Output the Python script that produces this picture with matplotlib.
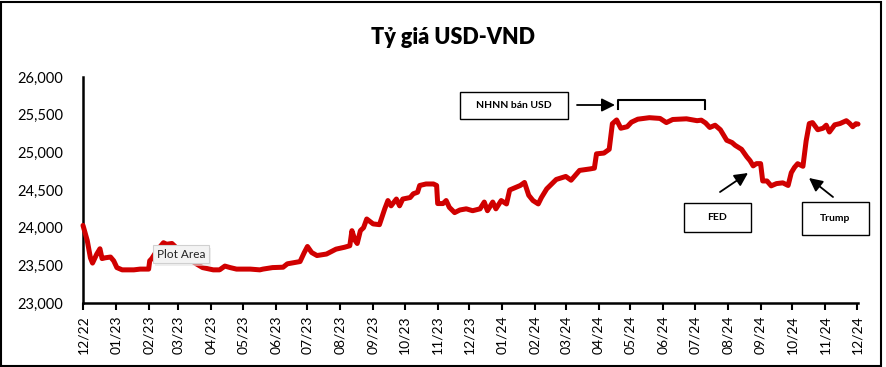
import numpy as np
import pandas as pd
import matplotlib
matplotlib.use('Agg')
import matplotlib.pyplot as plt
import matplotlib.dates as mdates
from matplotlib.patches import Rectangle
from matplotlib.ticker import FuncFormatter

dates = ['2022-12-01', '2022-12-05', '2022-12-08', '2022-12-10', '2022-12-14', '2022-12-17',
         '2022-12-19', '2022-12-22', '2022-12-27', '2022-12-30', '2023-01-02', '2023-01-07',
         '2023-01-18', '2023-01-24', '2023-02-01', '2023-02-02', '2023-02-04', '2023-02-09',
         '2023-02-15', '2023-02-18', '2023-02-23', '2023-02-26', '2023-03-07', '2023-03-18',
         '2023-03-24', '2023-04-03', '2023-04-09', '2023-04-14', '2023-04-19', '2023-04-25',
         '2023-05-08', '2023-05-17', '2023-05-20', '2023-05-29', '2023-06-08', '2023-06-12',
         '2023-06-24', '2023-06-28', '2023-07-01', '2023-07-05', '2023-07-10', '2023-07-19',
         '2023-07-28', '2023-08-05', '2023-08-10', '2023-08-12', '2023-08-15', '2023-08-17',
         '2023-08-20', '2023-08-23', '2023-08-26', '2023-09-01', '2023-09-07', '2023-09-12',
         '2023-09-15', '2023-09-18', '2023-09-23', '2023-09-26', '2023-09-29', '2023-10-06',
         '2023-10-09', '2023-10-13', '2023-10-15', '2023-10-21', '2023-10-28', '2023-10-31',
         '2023-11-01', '2023-11-06', '2023-11-09', '2023-11-12', '2023-11-17', '2023-11-22',
         '2023-11-28', '2023-12-04', '2023-12-11', '2023-12-15', '2023-12-18', '2023-12-23',
         '2023-12-26', '2023-12-31', '2024-01-05', '2024-01-08', '2024-01-18', '2024-01-22',
         '2024-01-26', '2024-01-30', '2024-02-04', '2024-02-07', '2024-02-12', '2024-02-21',
         '2024-03-01', '2024-03-06', '2024-03-14', '2024-03-24', '2024-03-28', '2024-03-30',
         '2024-04-06', '2024-04-11', '2024-04-14', '2024-04-18', '2024-04-22', '2024-04-28',
         '2024-05-02', '2024-05-08', '2024-05-19', '2024-05-29', '2024-06-04', '2024-06-10',
         '2024-06-23', '2024-07-03', '2024-07-07', '2024-07-11', '2024-07-15', '2024-07-20',
         '2024-07-25', '2024-07-31', '2024-08-05', '2024-08-08', '2024-08-14', '2024-08-19',
         '2024-08-22', '2024-08-25', '2024-08-28', '2024-09-01', '2024-09-03', '2024-09-07',
         '2024-09-11', '2024-09-16', '2024-09-22', '2024-09-27', '2024-09-30', '2024-10-03',
         '2024-10-06', '2024-10-11', '2024-10-14', '2024-10-17', '2024-10-20', '2024-10-25',
         '2024-10-30', '2024-11-02', '2024-11-05', '2024-11-10', '2024-11-15', '2024-11-21',
         '2024-11-24', '2024-11-27', '2024-11-30', '2024-12-02']
rates = [24030, 23830, 23600, 23530, 23650, 23720,
         23590, 23600, 23610, 23560, 23470, 23440,
         23440, 23450, 23450, 23560, 23590, 23700,
         23800, 23780, 23790, 23750, 23620, 23520,
         23470, 23440, 23440, 23490, 23470, 23450,
         23450, 23440, 23450, 23470, 23475, 23520,
         23550, 23670, 23750, 23670, 23630, 23650,
         23715, 23740, 23760, 23960, 23830, 23790,
         23960, 24000, 24115, 24050, 24040, 24250,
         24360, 24290, 24380, 24290, 24380, 24400,
         24450, 24470, 24560, 24580, 24580, 24560,
         24320, 24320, 24360, 24270, 24200, 24235,
         24250, 24225, 24250, 24340, 24225, 24340,
         24250, 24360, 24315, 24500, 24560, 24600,
         24430, 24360, 24315, 24400, 24515, 24640,
         24680, 24630, 24760, 24780, 24790, 24980,
         24990, 25040, 25380, 25430, 25320, 25340,
         25400, 25440, 25460, 25450, 25395, 25436,
         25445, 25420, 25427, 25390, 25330, 25360,
         25300, 25160, 25130, 25093, 25040, 24940,
         24890, 24820, 24850, 24850, 24620, 24620,
         24555, 24585, 24595, 24560, 24730, 24800,
         24849, 24815, 25150, 25382, 25395, 25300,
         25320, 25360, 25270, 25365, 25382, 25420,
         25385, 25340, 25380, 25375]

yticks = [23000, 23500, 24000, 24500, 25000, 25500, 26000]
tick_dates = pd.date_range('2022-12-01', '2024-12-01', freq='MS')

plt.rcParams['font.family'] = ['Lato', 'DejaVu Sans']

W, H = 887, 367
fig = plt.figure(figsize=(W / 100, H / 100), dpi=100)
ax = fig.add_axes([83 / W, 1 - 303 / H, 775 / W, 226 / H])

x = pd.to_datetime(dates)
ax.plot(x, rates, color='#D00000', lw=3.6, solid_joinstyle='round',
        solid_capstyle='round', clip_on=False, zorder=3)

ax.set_xlim(x[0], x[-1])
ax.set_ylim(23000, 26000)
ax.set_yticks(yticks)
ax.yaxis.set_major_formatter(FuncFormatter(lambda v, p: '{:,.0f}'.format(v)))
ax.set_xticks(tick_dates)
ax.xaxis.set_major_formatter(mdates.DateFormatter('%m/%y'))
ax.tick_params(axis='x', rotation=90, length=5, width=1.5, direction='out', labelsize=10, pad=4)
ax.tick_params(axis='y', length=0, labelsize=10.5, pad=14)

for s in ['top', 'right']:
    ax.spines[s].set_visible(False)
for s in ['left', 'bottom']:
    ax.spines[s].set_linewidth(1.8)
    ax.spines[s].set_color('black')


def px(x, y):
    return (x / W, 1 - y / H)


fig.text(*px(453, 37), 'Tỷ giá USD-VND', ha='center', va='center', fontsize=15.5, fontweight='heavy')

# annotation boxes
for (x0, y0, x1, y1, label) in [(460, 92, 568, 119, 'NHNN bán USD'),
                                (684, 203, 751, 232, 'FED'),
                                (802, 202, 869, 235, 'Trump')]:
    fig.patches.append(Rectangle(px(x0, y1), (x1 - x0) / W, (y1 - y0) / H, transform=fig.transFigure,
                                 fill=True, facecolor='white', edgecolor='black', lw=1))
    fig.text(*px((x0 + x1) / 2, (y0 + y1) / 2), label, ha='center', va='center',
             fontsize=7.5, fontweight='bold')

arrow = dict(arrowstyle='-|>,head_length=0.8,head_width=0.4', color='black', lw=1.3,
             shrinkA=0, shrinkB=0)
ax.annotate('', xy=px(615, 105), xytext=px(577, 105), xycoords='figure fraction',
            textcoords='figure fraction', arrowprops=arrow)
ax.annotate('', xy=px(748, 173), xytext=px(720, 192), xycoords='figure fraction',
            textcoords='figure fraction', arrowprops=arrow)
ax.annotate('', xy=px(809, 178), xytext=px(833, 197), xycoords='figure fraction',
            textcoords='figure fraction', arrowprops=arrow)

bx = [618, 618, 705, 705]
by = [109, 100, 100, 109]
fig.add_artist(plt.Line2D([b / W for b in bx], [1 - b / H for b in by], color='black', lw=1.5,
                          transform=fig.transFigure))

# excel tooltip
fig.patches.append(Rectangle(px(155, 266), 56 / W, 18 / H, transform=fig.transFigure,
                             facecolor='#e4e4e4', edgecolor='none', alpha=0.6, zorder=9))
fig.patches.append(Rectangle(px(153, 263), 56 / W, 18 / H, transform=fig.transFigure,
                             facecolor='#f3f3f3', edgecolor='#d0d0d0', lw=0.8, zorder=10))
fig.text(*px(181, 254), 'Plot Area', ha='center', va='center', fontsize=8.5, color='#222222', zorder=11)

# outer frame
fig.patches.append(Rectangle((1.5 / W, 1 - 366 / H), 880 / W, 364.5 / H, transform=fig.transFigure,
                             fill=False, edgecolor='black', lw=1.5))

fig.savefig('out.png', dpi=100)
